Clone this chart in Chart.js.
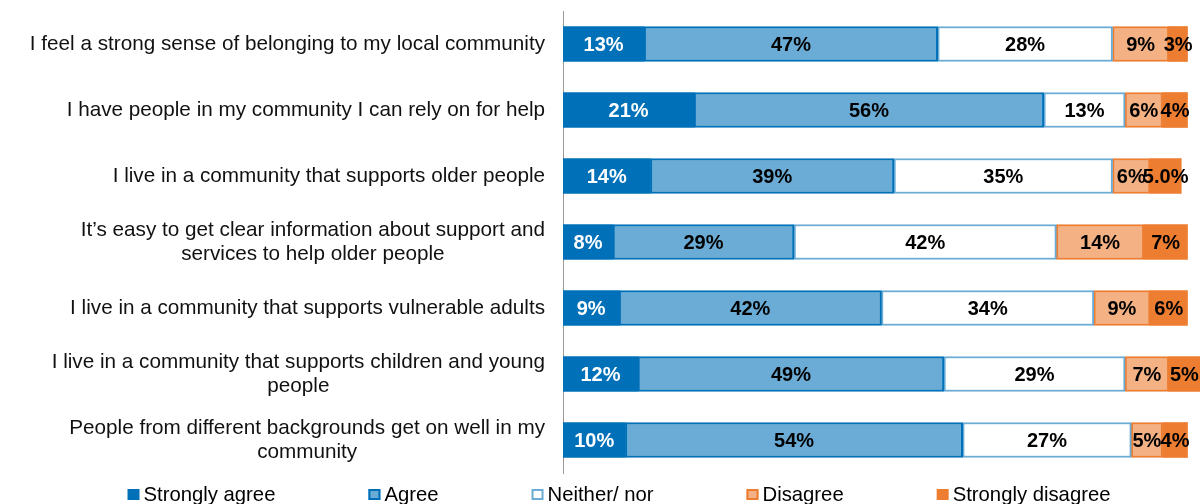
<!DOCTYPE html>
<html>
<head>
<meta charset="utf-8">
<style>
  html, body { margin: 0; padding: 0; background: #ffffff; }
  #wrap { width: 1200px; height: 504px; position: relative; }
</style>
<script src="https://cdn.jsdelivr.net/npm/chart.js@4/dist/chart.umd.min.js"></script>
</head>
<body>
<div id="wrap"><canvas id="chart"></canvas></div>
<script>
// Statements (multi-line entries are wrapped as shown on the axis)
const categories = [
  ['I feel a strong sense of belonging to my local community'],
  ['I have people in my community I can rely on for help'],
  ['I live in a community that supports older people'],
  ['It\u2019s easy to get clear information about support and', 'services to help older people'],
  ['I live in a community that supports vulnerable adults'],
  ['I live in a community that supports children and young', 'people'],
  ['People from different backgrounds get on well in my', 'community']
];

const seriesNames = ['Strongly agree', 'Agree', 'Neither/ nor', 'Disagree', 'Strongly disagree'];

// Percentages per response
const stronglyAgree    = [13, 21, 14, 8, 9, 12, 10];
const agree            = [47, 56, 39, 29, 42, 49, 54];
const neither          = [28, 13, 35, 42, 34, 29, 27];
const disagree         = [9, 6, 6, 14, 9, 7, 5];
const stronglyDisagree = [3, 4, 5, 7, 6, 5, 4];

// Decimal places shown on the strongly-disagree labels
const stronglyDisagreeDecimals = [0, 0, 1, 0, 0, 0, 0];

const DARK_BLUE = '#0070B8';
const LIGHT_BLUE = '#6AACD6';
const ORANGE = '#ED7D31';
const LIGHT_ORANGE = '#F4B183';
const FONT = '"Liberation Sans", Arial, Helvetica, sans-serif';

const styles = [
  { bg: DARK_BLUE,   border: DARK_BLUE,  text: '#ffffff' },
  { bg: LIGHT_BLUE,  border: DARK_BLUE,  text: '#000000' },
  { bg: '#ffffff',   border: LIGHT_BLUE, text: '#000000' },
  { bg: LIGHT_ORANGE, border: ORANGE,    text: '#000000' },
  { bg: ORANGE,      border: ORANGE,     text: '#000000' }
];

const seriesValues = [stronglyAgree, agree, neither, disagree, stronglyDisagree];

const datasets = seriesValues.map((vals, i) => ({
  label: seriesNames[i],
  data: vals,
  backgroundColor: styles[i].bg,
  borderColor: styles[i].border,
  borderWidth: i === 0 || i === 4 ? 0 : 2,
  borderSkipped: false,
  barThickness: 35,
  textColor: styles[i].text,
  decimals: i === 4 ? stronglyDisagreeDecimals : null
}));

// Value labels centred inside each segment
const segmentLabels = {
  id: 'segmentLabels',
  afterDatasetsDraw(chart) {
    const ctx = chart.ctx;
    ctx.save();
    ctx.font = 'bold 20px ' + FONT;
    ctx.textAlign = 'center';
    ctx.textBaseline = 'middle';
    chart.data.datasets.forEach((ds, di) => {
      const meta = chart.getDatasetMeta(di);
      meta.data.forEach((bar, idx) => {
        const v = ds.data[idx];
        const dec = ds.decimals ? ds.decimals[idx] : 0;
        const txt = v.toFixed(dec) + '%';
        ctx.fillStyle = ds.textColor;
        ctx.fillText(txt, (bar.x + bar.base) / 2, bar.y + 1);
      });
    });
    ctx.restore();
  }
};

// Category labels: block right-aligned to the axis, lines centred within the block
const categoryLabels = {
  id: 'categoryLabels',
  afterDraw(chart) {
    const ctx = chart.ctx;
    const yScale = chart.scales.y;
    ctx.save();
    ctx.font = '20.7px ' + FONT;
    ctx.fillStyle = '#111111';
    ctx.textAlign = 'center';
    ctx.textBaseline = 'middle';
    const rightEdge = chart.chartArea.left - 18;
    const lineH = 24;
    categories.forEach((lines, i) => {
      const cy = yScale.getPixelForValue(i);
      const blockW = Math.max(...lines.map(l => ctx.measureText(l).width));
      const cx = rightEdge - blockW / 2;
      const top = cy - (lines.length - 1) * lineH / 2;
      lines.forEach((l, j) => ctx.fillText(l, cx, top + j * lineH));
    });
    ctx.restore();
  }
};

// Legend row along the bottom
const bottomLegend = {
  id: 'bottomLegend',
  afterDraw(chart) {
    const ctx = chart.ctx;
    ctx.save();
    ctx.font = '20.3px ' + FONT;
    ctx.textBaseline = 'middle';
    ctx.textAlign = 'left';
    const boxW = 12, boxH = 11, textGap = 4, itemGap = 93;
    const widths = seriesNames.map(n => boxW + textGap + ctx.measureText(n).width);
    const total = widths.reduce((a, b) => a + b, 0) + itemGap * (seriesNames.length - 1);
    let x = 619 - total / 2;
    const cy = 494.5;
    chart.data.datasets.forEach((ds, i) => {
      ctx.fillStyle = ds.backgroundColor;
      ctx.fillRect(x, cy - boxH / 2, boxW, boxH);
      if (ds.borderWidth) {
        ctx.strokeStyle = ds.borderColor;
        ctx.lineWidth = 2;
        ctx.strokeRect(x + 1, cy - boxH / 2 + 1, boxW - 2, boxH - 2);
      }
      ctx.fillStyle = '#000000';
      ctx.fillText(seriesNames[i], x + boxW + textGap, cy + 1);
      x += widths[i] + itemGap;
    });
    ctx.restore();
  }
};

new Chart(document.getElementById('chart'), {
  type: 'bar',
  data: {
    labels: categories.map(c => c.join(' ')),
    datasets: datasets
  },
  options: {
    indexAxis: 'y',
    responsive: true,
    maintainAspectRatio: false,
    animation: false,
    layout: { padding: { left: 563, right: 0, top: 11, bottom: 31 } },
    plugins: {
      legend: { display: false },
      tooltip: { enabled: false }
    },
    scales: {
      x: {
        stacked: true,
        min: 0,
        max: 102,
        display: false
      },
      y: {
        stacked: true,
        ticks: { display: false },
        grid: { display: false, drawTicks: false },
        border: { display: true, color: '#9a9a9a', width: 1 },
        afterFit(scale) { scale.width = 0; }
      }
    }
  },
  plugins: [segmentLabels, categoryLabels, bottomLegend]
});
</script>
</body>
</html>
